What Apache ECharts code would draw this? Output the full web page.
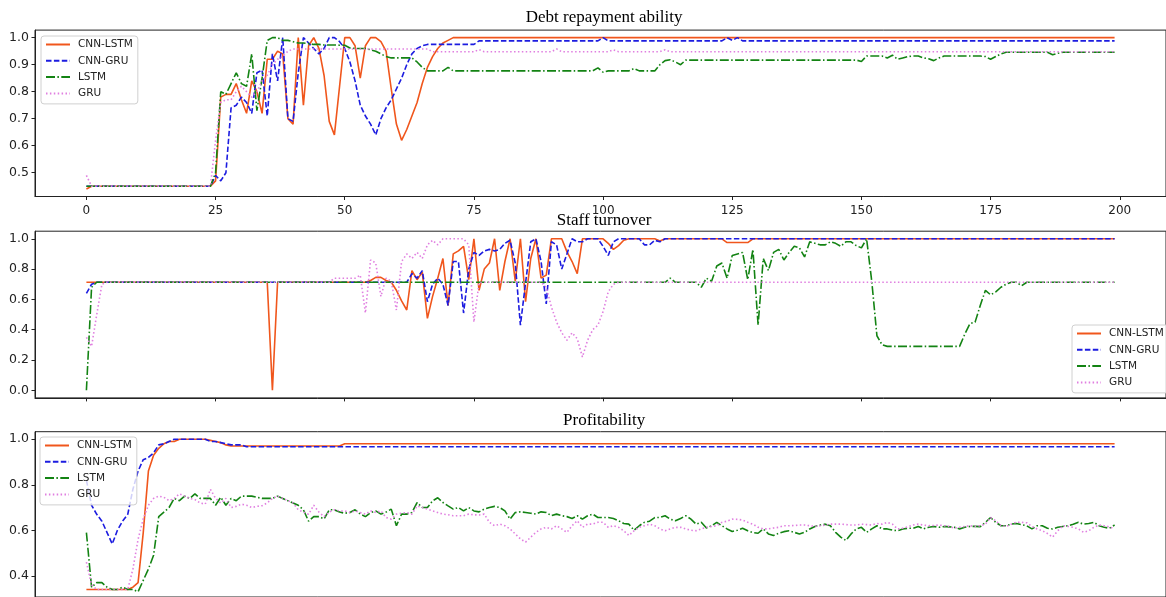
<!DOCTYPE html>
<html>
<head>
<meta charset="utf-8">
<script src="https://cdn.jsdelivr.net/npm/echarts@6/dist/echarts.min.js"></script>
<style>
  html, body { margin: 0; padding: 0; background: #fff; }
  #chart { width: 1166px; height: 597px; }
</style>
</head>
<body>
<div id="chart"></div>
<script>
// flat stretches of a curve
function rep(v, n) { return new Array(n).fill(v); }

const seriesNames = ['CNN-LSTM', 'CNN-GRU', 'LSTM', 'GRU'];
const panelTitles = ['Debt repayment ability', 'Staff turnover', 'Profitability'];
const xTicks = [0, 25, 50, 75, 100, 125, 150, 175, 200];
const debtTicks = [0.5, 0.6, 0.7, 0.8, 0.9, 1.0];
const staffTicks = [0.0, 0.2, 0.4, 0.6, 0.8, 1.0];
const profitTicks = [0.4, 0.6, 0.8, 1.0];

// ---- Debt repayment ability ----
const debtCnnLstm = [0.44, ...rep(0.45, 24), 0.47,
  0.78, 0.79, 0.79, 0.83, 0.77, 0.72, 0.84, 0.80, 0.72, 0.92, 0.92, 0.95, 0.94, 0.70, 0.68,
  1.0, 0.75, 0.97, 1.0, 0.96, 0.86, 0.69, 0.64, 0.82, 1.0,
  1.0, 0.97, 0.85, 0.97, 1.0, 1.0, 0.985, 0.95, 0.81, 0.68,
  0.62, 0.66, 0.71, 0.76, 0.83, 0.89, 0.93, 0.96, 0.98, 0.99,
  ...rep(1.0, 129)];

const debtCnnGru = [...rep(0.45, 25),
  0.49, 0.47, 0.50, 0.74, 0.75, 0.78, 0.76, 0.72, 0.87, 0.88, 0.71, 0.94, 0.84, 1.0, 0.70, 0.69,
  0.87, 1.0, 0.98, 0.96, 0.94, 0.96, 1.0, 1.0, 0.985, 0.96,
  0.91, 0.84, 0.75, 0.71, 0.68, 0.64, 0.70, 0.74, 0.77, 0.81,
  0.85, 0.90, 0.94, 0.96, 0.97,
  ...rep(0.975, 10), ...rep(0.988, 24), 1.0, ...rep(0.988, 23),
  1.0, 0.99, 1.0, ...rep(0.988, 73)];

const debtLstm = [...rep(0.45, 25),
  0.50, 0.80, 0.79, 0.83, 0.87, 0.83, 0.82, 0.94, 0.73, 0.85,
  0.99, 1.0, 1.0, 0.99, 0.99, 0.985, 0.98, 0.98, 0.978, 0.975, 0.975,
  0.973, 0.973, 0.973, 0.972, 0.972,
  0.962, 0.96, 0.96, 0.96, 0.955, 0.95, 0.94, 0.93,
  ...rep(0.925, 5), 0.91, 0.89, ...rep(0.877, 4), 0.89, ...rep(0.877, 28),
  0.888, 0.872, ...rep(0.877, 5), 0.886, ...rep(0.877, 4),
  0.90, 0.915, 0.918, 0.91, 0.90, ...rep(0.917, 34), 0.912, ...rep(0.932, 4),
  0.925, 0.935, 0.92, 0.925, 0.93, 0.932, 0.932, 0.925, 0.922, 0.915, 0.925,
  ...rep(0.932, 8), 0.93, 0.92, 0.93, 0.94, ...rep(0.946, 9), 0.937, 0.942, ...rep(0.946, 11)];

const debtGru = [0.49, ...rep(0.45, 24),
  0.62, 0.76, 0.77, 0.77, 0.80, 0.82, 0.80, 0.78, 0.80, 0.84, 0.86, 0.90, 0.92, 0.93, 0.95,
  ...rep(0.958, 27), ...rep(0.948, 9), 0.956, ...rep(0.948, 14), 0.958,
  ...rep(0.948, 10), 0.955, ...rep(0.948, 9), 0.955, ...rep(0.948, 87)];

// ---- Staff turnover ----
const staffCnnLstm = [...rep(0.713, 36), 0.0, ...rep(0.713, 18),
  0.725, 0.745, 0.745, 0.725, 0.713,
  0.66, 0.59, 0.53, 0.79, 0.73, 0.78, 0.475, 0.62, 0.74, 0.87,
  0.56, 0.90, 0.92, 0.95, 0.73, 1.0, 0.66, 0.80, 0.84, 1.0,
  0.66, 0.85, 1.0, 0.72, 1.0, 0.585, 0.87, 1.0, 0.74, 0.76,
  1.0, 1.0, 1.0, 0.915, 0.85, 0.77, 1.0, 1.0, 1.0, 1.0,
  1.0, 0.97, 0.93, 0.955, 0.99, 1.0,
  ...rep(1.0, 5), 0.985, ...rep(1.0, 12), ...rep(0.975, 5), ...rep(1.0, 71)];

const staffCnnGru = [0.64, 0.70, ...rep(0.713, 61),
  0.77, 0.74, 0.79, 0.585, 0.70, 0.74, 0.70, 0.56, 0.85, 0.85,
  0.51, 0.80, 0.91, 0.89, 0.92, 0.93, 0.92, 0.93, 0.97, 0.99,
  0.84, 0.43, 0.71, 0.98, 1.0, 0.85, 0.57, 0.98, 0.96, 0.80, 0.90, 1.0,
  0.98, 0.98, 1.0, 1.0, 1.0, 0.95, 0.89,
  0.98, 1.0, 1.0, 1.0, 1.0, 1.0,
  0.96, 0.96, 0.99, 0.98, ...rep(1.0, 88)];

const staffLstm = [0.0, 0.68, ...rep(0.713, 111), 0.74, ...rep(0.713, 5),
  0.68, 0.74, 0.72, 0.82, 0.84, 0.74, 0.89, 0.90, 0.91, 0.73, 0.93, 0.43,
  0.87, 0.79, 0.91, 0.93, 0.86, 0.91, 0.95, 0.94, 0.88, 0.98,
  0.97, 0.96, 0.96, 0.98, 0.97, 0.95, 0.98, 0.98, 0.955, 0.94, 1.0,
  0.72, 0.36, 0.30, ...rep(0.29, 15),
  0.37, 0.44, 0.45, 0.56, 0.66, 0.63, 0.65, 0.68, 0.70, 0.713, 0.713, 0.69,
  ...rep(0.713, 18)];

const staffGru = [0.35, 0.29, 0.50, 0.70, ...rep(0.713, 44), ...rep(0.74, 5),
  0.76, 0.51, 0.86, 0.84, 0.62, 0.74, 0.72, 0.53, 0.85, 0.90,
  0.87, 0.91, 0.87, 0.96, 0.99, 0.96, 1.0, 1.0, 1.0, 1.0, 1.0, 0.96, 0.45, 0.71,
  ...rep(0.713, 12),
  0.68, 0.55, 0.45, 0.38, 0.33, 0.38, 0.34, 0.22, 0.33, 0.40, 0.43, 0.52, 0.65, 0.70,
  ...rep(0.713, 97)];

// ---- Profitability ----
const profitCnnLstm = [...rep(0.34, 9),
  0.35, 0.37, 0.59, 0.86, 0.93, 0.96, 0.98, 0.99, 0.99,
  ...rep(1.0, 6), 0.995, 0.99, 0.985, 0.975, ...rep(0.97, 22), ...rep(0.98, 150)];

const profitCnnGru = [0.82, 0.71, 0.67, 0.64, 0.59, 0.54, 0.60, 0.64, 0.67, 0.78,
  0.86, 0.91, 0.92, 0.94, 0.975, 0.98, 0.99,
  ...rep(1.0, 7), 0.99, 0.99, 0.985, 0.98, 0.975, 0.975, 0.975, ...rep(0.967, 169)];

const profitLstm = [
  0.59, 0.35, 0.37, 0.37, 0.35, 0.34, 0.34, 0.35, 0.34, 0.34,
  0.33, 0.38, 0.43, 0.49, 0.66, 0.68, 0.70, 0.74, 0.73, 0.75,
  0.74, 0.76, 0.74, 0.74, 0.74, 0.71, 0.745, 0.71, 0.74, 0.73,
  0.75, 0.75, 0.75, 0.745, 0.74, 0.74, 0.74, 0.75, 0.74, 0.73,
  0.72, 0.71, 0.69, 0.64, 0.66, 0.66, 0.65, 0.69, 0.69, 0.68,
  0.675, 0.678, 0.69, 0.671, 0.66, 0.678, 0.685, 0.671, 0.68, 0.693,
  0.62, 0.671, 0.671, 0.678, 0.722, 0.70, 0.70, 0.729, 0.743, 0.722,
  0.707, 0.693, 0.70, 0.685, 0.70, 0.685, 0.681, 0.693, 0.70, 0.705,
  0.70, 0.685, 0.649, 0.678, 0.681, 0.678, 0.675, 0.671, 0.681, 0.678,
  0.664, 0.671, 0.664, 0.66, 0.652, 0.664, 0.649, 0.664, 0.671, 0.656,
  0.656, 0.656, 0.652, 0.642, 0.63, 0.627, 0.60, 0.62, 0.635, 0.64,
  0.656, 0.656, 0.664, 0.649, 0.642, 0.652, 0.664, 0.649, 0.627, 0.635,
  0.61, 0.62, 0.635, 0.62, 0.606, 0.595, 0.60, 0.609, 0.598, 0.59,
  0.587, 0.606, 0.584, 0.577, 0.587, 0.594, 0.598, 0.591, 0.584, 0.591,
  0.606, 0.617, 0.623, 0.627, 0.62, 0.591, 0.57, 0.555, 0.584, 0.606,
  0.613, 0.591, 0.606, 0.62, 0.606, 0.606, 0.601, 0.598, 0.606, 0.609,
  0.609, 0.617, 0.606, 0.613, 0.617, 0.613, 0.617, 0.615, 0.613, 0.606,
  0.613, 0.617, 0.617, 0.616, 0.635, 0.656, 0.635, 0.62, 0.62, 0.627,
  0.63, 0.625, 0.62, 0.606, 0.62, 0.62, 0.609, 0.606, 0.613, 0.617,
  0.62, 0.627, 0.635, 0.627, 0.63, 0.635, 0.62, 0.613, 0.609, 0.623];

const profitGru = [
  0.46, 0.36, 0.34, 0.34, 0.34, 0.34, 0.34, 0.34, 0.34, 0.43,
  0.56, 0.65, 0.71, 0.74, 0.75, 0.745, 0.73, 0.74, 0.76, 0.75,
  0.74, 0.735, 0.72, 0.715, 0.78, 0.74, 0.72, 0.74, 0.70, 0.705,
  0.715, 0.71, 0.70, 0.705, 0.708, 0.72, 0.74, 0.75, 0.74, 0.73,
  0.72, 0.69, 0.68, 0.67, 0.71, 0.68, 0.66, 0.68, 0.69, 0.685,
  0.685, 0.678, 0.685, 0.678, 0.671, 0.685, 0.678, 0.685, 0.656, 0.649,
  0.671, 0.675, 0.678, 0.671, 0.707, 0.70, 0.693, 0.685, 0.678, 0.671,
  0.668, 0.664, 0.664, 0.664, 0.671, 0.668, 0.667, 0.671, 0.635, 0.62,
  0.627, 0.62, 0.606, 0.584, 0.562, 0.548, 0.57, 0.591, 0.606, 0.613,
  0.606, 0.62, 0.606, 0.591, 0.62, 0.642, 0.613, 0.627, 0.627, 0.635,
  0.635, 0.613, 0.62, 0.613, 0.598, 0.577, 0.598, 0.613, 0.62, 0.627,
  0.62, 0.606, 0.598, 0.606, 0.613, 0.613, 0.606, 0.60, 0.598, 0.606,
  0.613, 0.617, 0.62, 0.635, 0.64, 0.649, 0.648, 0.645, 0.635, 0.627,
  0.613, 0.606, 0.606, 0.61, 0.613, 0.62, 0.62, 0.621, 0.623, 0.623,
  0.62, 0.617, 0.62, 0.623, 0.627, 0.627, 0.627, 0.625, 0.623, 0.623,
  0.627, 0.625, 0.623, 0.63, 0.627, 0.635, 0.627, 0.606, 0.609, 0.615,
  0.623, 0.627, 0.623, 0.62, 0.621, 0.623, 0.62, 0.617, 0.609, 0.613,
  0.617, 0.62, 0.617, 0.62, 0.627, 0.656, 0.642, 0.62, 0.617, 0.627,
  0.635, 0.635, 0.633, 0.617, 0.606, 0.598, 0.586, 0.57, 0.598, 0.62,
  0.617, 0.613, 0.606, 0.591, 0.598, 0.613, 0.623, 0.62, 0.615, 0.606];

const colors = ['#f0561c', '#1c1ce0', '#138313', '#e07fe0'];
const dashes = ['solid', [5.5, 2.4], [9, 2.4, 1.5, 2.4], [1.5, 2.4]];
const ink = '#222';

// panel geometry (matplotlib axes boxes, right edge is cut off by the picture)
const panels = [
  {top: 30.1, height: 166.4, min: 0.412, max: 1.028, ticks: debtTicks, data: [debtCnnLstm, debtCnnGru, debtLstm, debtGru], titleY: 17.5},
  {top: 231.2, height: 166.7, min: -0.05, max: 1.05, ticks: staffTicks, data: [staffCnnLstm, staffCnnGru, staffLstm, staffGru], titleY: 221},
  {top: 431.7, height: 167, min: 0.307, max: 1.033, ticks: profitTicks, data: [profitCnnLstm, profitCnnGru, profitLstm, profitGru], titleY: 421}
];
const axLeft = 35, axWidth = 1138.3;

let grids = [], xAxes = [], yAxes = [], series = [], texts = [];

panels.forEach((p, g) => {
  grids.push({
    left: axLeft, top: p.top, width: axWidth, height: p.height,
    show: true, borderColor: ink, borderWidth: 1, containLabel: false
  });
  xAxes.push({
    type: 'value', gridIndex: g, min: -9.95, max: 208.95,
    axisLine: {show: true, onZero: false, lineStyle: {color: ink, width: 1}},
    axisTick: {show: true, customValues: xTicks, length: 3.5, lineStyle: {color: ink}},
    axisLabel: {show: g === 0, customValues: xTicks, margin: 8, color: ink, fontFamily: 'DejaVu Sans', fontSize: 12},
    splitLine: {show: false}
  });
  yAxes.push({
    type: 'value', gridIndex: g, min: p.min, max: p.max,
    axisLine: {show: true, onZero: false, lineStyle: {color: ink, width: 1}},
    axisTick: {show: true, customValues: p.ticks, length: 3.5, lineStyle: {color: ink}},
    axisLabel: {customValues: p.ticks, margin: 6, color: ink, fontFamily: 'DejaVu Sans', fontSize: 12.5,
      formatter: (v) => v.toFixed(1)},
    splitLine: {show: false}
  });
  p.data.forEach((arr, k) => {
    series.push({
      name: seriesNames[k], type: 'line', xAxisIndex: g, yAxisIndex: g,
      data: arr.map((v, i) => [i, v]),
      symbol: 'none', showSymbol: false, smooth: false,
      lineStyle: {color: colors[k], width: 1.6, type: dashes[k]},
      itemStyle: {color: colors[k]},
      emphasis: {disabled: true},
      animation: false
    });
  });
  texts.push({
    type: 'text', x: axLeft + axWidth / 2, y: p.titleY, z: 10,
    style: {text: panelTitles[g], fill: '#000', font: '17px "Liberation Serif"', align: 'center', verticalAlign: 'middle'}
  });
});

function legendAt(left, top) {
  return {
    data: seriesNames, left: left, top: top, orient: 'vertical',
    itemWidth: 24, itemHeight: 12, itemGap: 5.3,
    padding: [3, 5, 5, 4],
    backgroundColor: 'rgba(255,255,255,0.8)', borderColor: '#d0d0d0', borderWidth: 1, borderRadius: 3,
    itemStyle: {opacity: 0},
    textStyle: {fontFamily: 'DejaVu Sans', fontSize: 10.5, color: ink, padding: [0, 0, 0, 3]},
    selectedMode: false
  };
}

const chart = echarts.init(document.getElementById('chart'), null, {renderer: 'canvas'});
chart.setOption({
  animation: false,
  backgroundColor: '#fff',
  grid: grids,
  xAxis: xAxes,
  yAxis: yAxes,
  legend: [legendAt(41, 36), legendAt(1072, 325), legendAt(40, 437)],
  graphic: texts,
  series: series
});
</script>
</body>
</html>
